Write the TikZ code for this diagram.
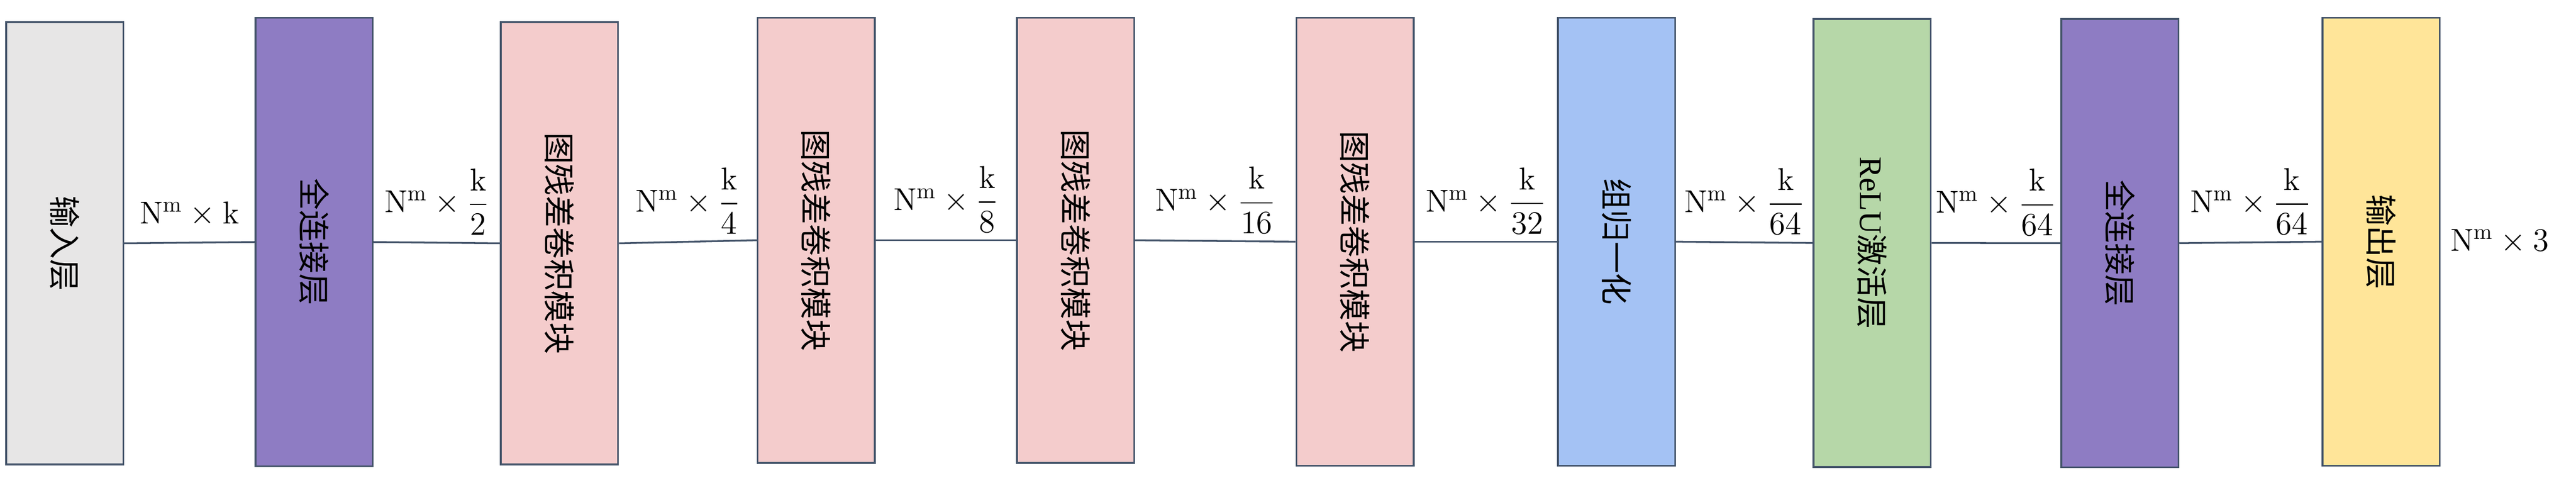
\documentclass[tikz,border=0pt]{standalone}
\usepackage{amsmath}
\usepackage{fontspec}
\usepackage{xcolor}
\usepackage{tikz}

\newfontfamily\cjk{Noto Sans CJK SC}
\newfontfamily\latinserif{Liberation Serif}

\definecolor{edge}{HTML}{44546A}
\definecolor{grayfill}{HTML}{E7E6E6}
\definecolor{purplefill}{HTML}{8E7CC3}
\definecolor{pinkfill}{HTML}{F4CCCC}
\definecolor{bluefill}{HTML}{A4C2F4}
\definecolor{greenfill}{HTML}{B6D7A8}
\definecolor{yellowfill}{HTML}{FFE599}

\begin{document}
\begin{tikzpicture}[
	layer/.style={draw=edge,line width=0.8pt,minimum width=1.82cm,inner sep=0pt},
	layertext/.style={rotate=-90,font=\fontsize{14}{17}\selectfont\cjk,inner sep=0pt},
	dimlabel/.style={font=\fontsize{14}{17}\selectfont,inner sep=0pt},
	joint/.style={draw=edge,line width=0.8pt}
]
	\useasboundingbox (0,0) rectangle (40,7.5);
	
	\foreach \n/\x/\y/\h/\c/\t in {in/1.005/3.72/6.87/grayfill/输入层,
		fca/4.8775/3.74/6.97/purplefill/全连接层,
		resa/8.6875/3.72/6.87/pinkfill/图残差卷积模块,
		resb/12.675/3.7675/6.915/pinkfill/图残差卷积模块,
		resc/16.7/3.7675/6.915/pinkfill/图残差卷积模块,
		resd/21.04/3.745/6.96/pinkfill/图残差卷积模块,
		gn/25.1/3.745/6.96/bluefill/组归一化,
		relu/29.07/3.725/6.96/greenfill/{{\latinserif ReLU}激活层},
		fcb/32.9175/3.7225/6.965/purplefill/全连接层,
		out/36.975/3.745/6.96/yellowfill/输出层}{
		\node[layer,fill=\c,minimum height=\h cm] (\n) at (\x,\y) {};
		\node[layertext] (\n text) at (\n) {\t};
	}
	
	\draw[joint] (in.east) -- node[dimlabel,above=6.7pt] (dimfca) {$\mathrm{N}^{\mathrm{m}}\times\mathrm{k}$} (fca.west);
	
	\foreach \a/\b/\d in {fca/resa/2,resa/resb/4,resb/resc/8,resc/resd/16,resd/gn/32,gn/relu/64,relu/fcb/64,fcb/out/64}{
		\draw[joint] (\a.east) -- node[dimlabel,above=3pt] (dim\b) {$\mathrm{N}^{\mathrm{m}}\times\dfrac{\mathrm{k}}{\d}$} (\b.west);
	}
	
	\node[dimlabel,anchor=base west] (dimout) at ([xshift=0.145cm,yshift=-0.145cm]out.east) {$\mathrm{N}^{\mathrm{m}}\times3$};
\end{tikzpicture}
\end{document}
